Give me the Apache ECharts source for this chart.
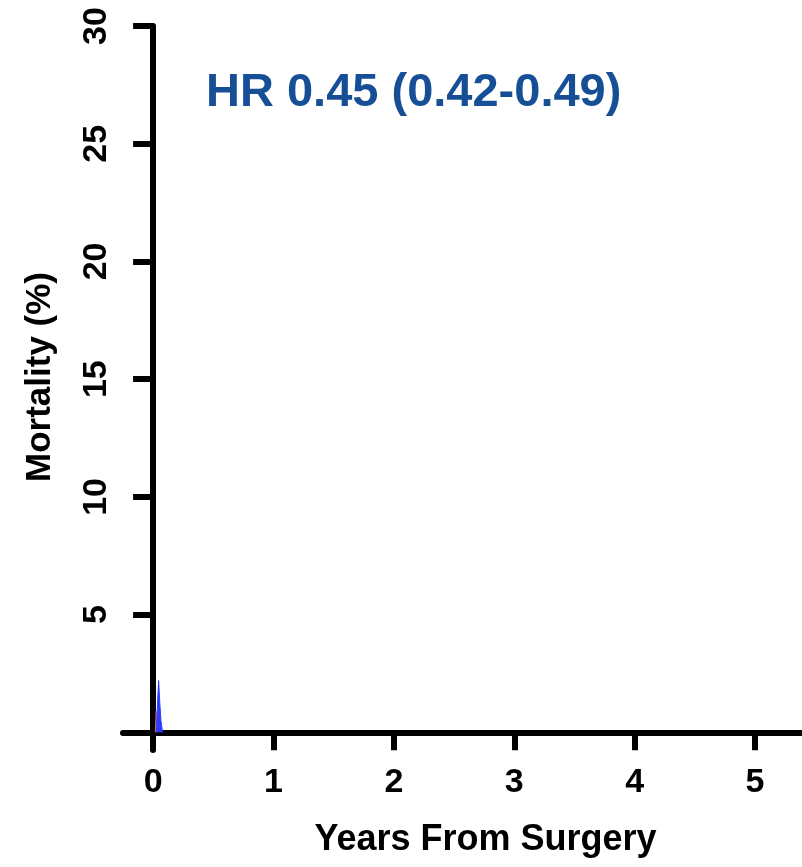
<!DOCTYPE html>
<html>
<head>
<meta charset="utf-8">
<script src="https://cdn.jsdelivr.net/npm/echarts@6/dist/echarts.min.js"></script>
<style>html,body{margin:0;padding:0;background:#fff;}#c{width:802px;height:867px;}</style>
</head>
<body>
<div id="c"></div>
<script>
const xTicks = [0, 1, 2, 3, 4, 5];
const yTicks = [5, 10, 15, 20, 25, 30];
const blueX = [0.028, 0.038, 0.046, 0.055, 0.065, 0.078];
const blueY = [0, 1.4, 2.2, 1.3, 0.5, 0];
const redX = [0.018, 0.026, 0.034];
const redY = [0, 0.9, 0];
const hrText = 'HR 0.45 (0.42-0.49)';
const xName = 'Years From Surgery';
const yName = 'Mortality (%)';

const FONT = '"Liberation Sans", Arial, sans-serif';
const chart = echarts.init(document.getElementById('c'), null, {renderer: 'canvas'});
chart.setOption({
  animation: false,
  backgroundColor: '#fff',
  title: {
    text: hrText, left: 201, top: 65,
    textStyle: {fontFamily: FONT, fontWeight: 'bold', fontSize: 47, color: '#174f97'}
  },
  grid: {left: 123, right: 0, top: 26, bottom: 117, containLabel: false, outerBoundsMode: 'none'},
  xAxis: {
    type: 'value', min: -0.25, max: 5.39,
    name: xName, nameLocation: 'middle', nameGap: 72,
    nameTextStyle: {fontFamily: FONT, fontWeight: 'bold', fontSize: 36, color: '#000', padding: [0, 0, 0, 46]},
    axisLine: {onZero: true, lineStyle: {color: '#000', width: 6}},
    axisTick: {show: true, length: 18, lineStyle: {color: '#000', width: 6}, customValues: xTicks},
    axisLabel: {fontFamily: FONT, fontWeight: 'bold', fontSize: 34, color: '#000', margin: 16, customValues: xTicks},
    splitLine: {show: false}
  },
  yAxis: {
    type: 'value', min: -0.75, max: 30,
    name: yName, nameLocation: 'middle', nameGap: 65, nameRotate: 90,
    nameTextStyle: {fontFamily: FONT, fontWeight: 'bold', fontSize: 35, color: '#000', padding: [0, 0, 0, 22]},
    axisLine: {onZero: true, lineStyle: {color: '#000', width: 6}},
    axisTick: {show: true, length: 20, lineStyle: {color: '#000', width: 6}, customValues: yTicks},
    axisLabel: {fontFamily: FONT, fontWeight: 'bold', fontSize: 34, color: '#000', margin: 9, rotate: 90, customValues: yTicks},
    splitLine: {show: false}
  },
  series: [
    {
      type: 'line', showSymbol: false, z: 3,
      data: redX.map((x, i) => [x, redY[i]]),
      lineStyle: {color: '#e06060', width: 1},
      areaStyle: {color: '#e06060', opacity: 0.6}
    },
    {
      type: 'line', showSymbol: false, z: 4,
      data: blueX.map((x, i) => [x, blueY[i]]),
      lineStyle: {color: '#2a3cff', width: 1},
      areaStyle: {color: '#2a3cff', opacity: 1}
    }
  ]
});
</script>
</body>
</html>
